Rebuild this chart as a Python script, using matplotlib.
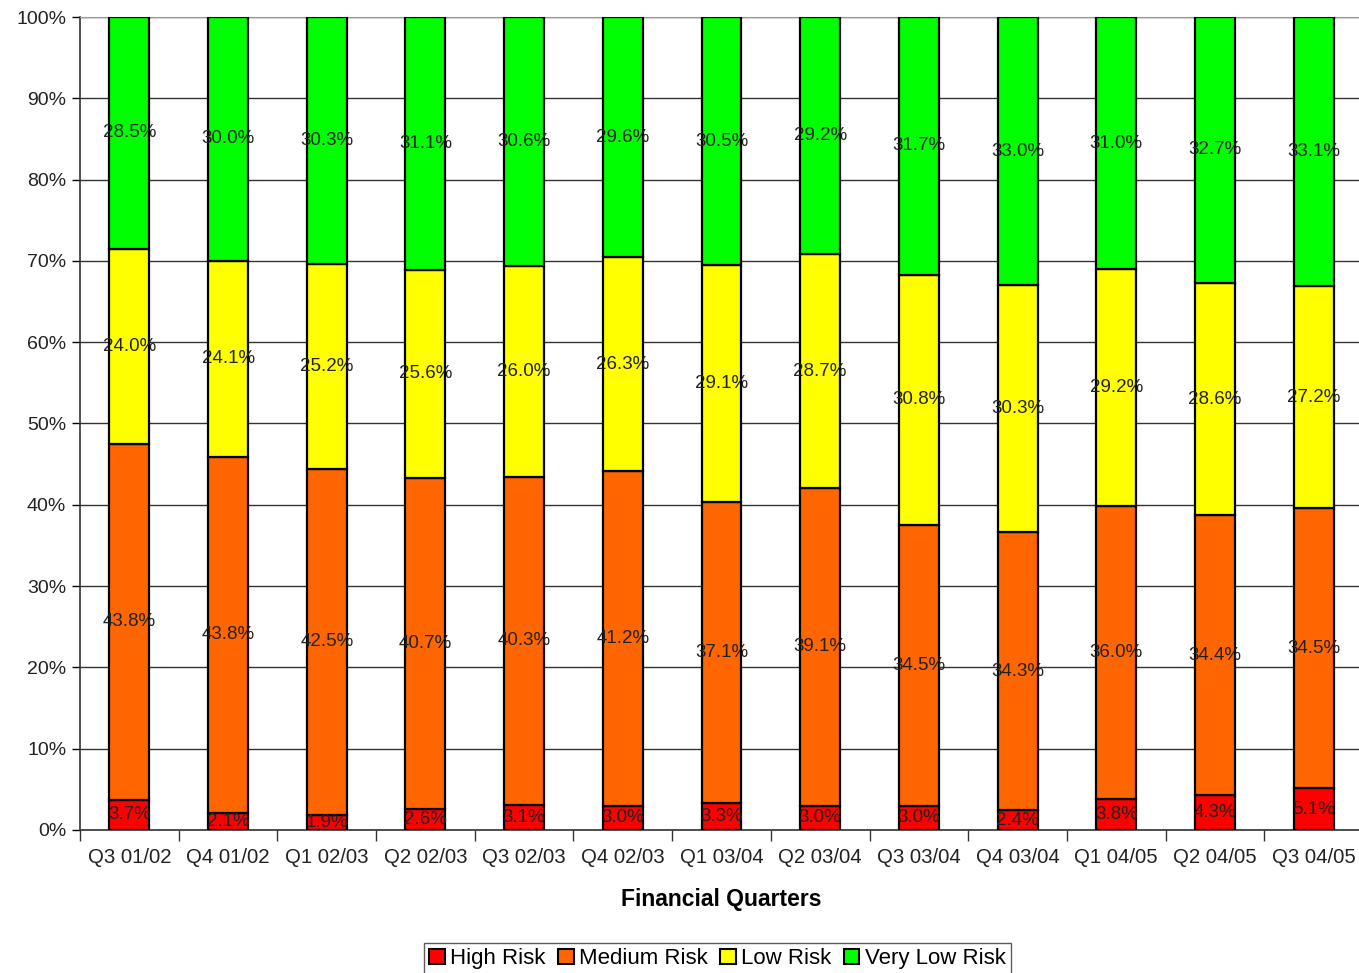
import numpy as np
import matplotlib.pyplot as plt
from matplotlib.patches import Patch

plt.rcParams['font.family'] = ['Liberation Sans', 'DejaVu Sans']

quarters = ["Q3 01/02", "Q4 01/02", "Q1 02/03", "Q2 02/03", "Q3 02/03", "Q4 02/03",
            "Q1 03/04", "Q2 03/04", "Q3 03/04", "Q4 03/04", "Q1 04/05", "Q2 04/05",
            "Q3 04/05"]

high_risk = [3.7, 2.1, 1.9, 2.6, 3.1, 3.0, 3.3, 3.0, 3.0, 2.4, 3.8, 4.3, 5.1]
medium_risk = [43.8, 43.8, 42.5, 40.7, 40.3, 41.2, 37.1, 39.1, 34.5, 34.3, 36.0, 34.4, 34.5]
low_risk = [24.0, 24.1, 25.2, 25.6, 26.0, 26.3, 29.1, 28.7, 30.8, 30.3, 29.2, 28.6, 27.2]
very_low_risk = [28.5, 30.0, 30.3, 31.1, 30.6, 29.6, 30.5, 29.2, 31.7, 33.0, 31.0, 32.7, 33.1]

series = [("High Risk", high_risk, "#ff0000"),
          ("Medium Risk", medium_risk, "#ff6600"),
          ("Low Risk", low_risk, "#ffff00"),
          ("Very Low Risk", very_low_risk, "#00ff00")]

fig = plt.figure(figsize=(13.59, 9.73), dpi=100)
ax = fig.add_axes([0.0589, 0.147, 0.944, 0.8355])

x = np.arange(len(quarters))
totals = np.sum([s[1] for s in series], axis=0)
bottom = np.zeros(len(quarters))

for name, vals, col in series:
    pct = np.array(vals) / totals * 100
    ax.bar(x, pct, 0.405, bottom=bottom, color=col, edgecolor="black",
           linewidth=1.6, zorder=3)
    for xi, b, h, v in zip(x, bottom, pct, vals):
        ax.text(xi, b + h / 2, f"{v:.1f}%", ha="center", va="center",
                fontsize=13.5, color="#222222", zorder=4)
    bottom += pct

ax.set_xlim(-0.5, len(quarters) - 0.5)
ax.set_ylim(0, 100)
ax.set_yticks(np.arange(0, 101, 10))
ax.set_yticklabels([f"{v}%" for v in range(0, 101, 10)], fontsize=14, color="#222222")
ax.yaxis.grid(True, color="#333333", linewidth=1.0, zorder=0)
ax.tick_params(axis="y", direction="out", length=6, width=1, pad=4)

ax.set_xticks(x)
ax.set_xticklabels(quarters, fontsize=14.7, color="#222222")
ax.set_xticks(np.arange(-0.5, len(quarters), 1), minor=True)
ax.tick_params(axis="x", which="major", length=0, pad=13)
ax.tick_params(axis="x", which="minor", length=8, width=1, color="#333333")

ax.spines["right"].set_visible(False)
ax.spines["top"].set_color("#999999")
ax.spines["left"].set_color("#333333")
ax.spines["bottom"].set_color("#333333")
ax.spines["left"].set_linewidth(1.2)
ax.spines["bottom"].set_linewidth(1.2)

ax.set_xlabel("Financial Quarters", fontsize=16.5, fontweight="bold", labelpad=15)

handles = [Patch(facecolor=c, edgecolor="black", linewidth=1.5, label=n) for n, _, c in series]
fig.legend(handles=handles, loc="upper center", bbox_to_anchor=(0.528, 0.031),
           ncol=4, fontsize=16, frameon=True, fancybox=False, edgecolor="#333333",
           handlelength=0.7, handleheight=0.7, handletextpad=0.25, columnspacing=0.55,
           borderpad=0.25, borderaxespad=0)

fig.savefig("out.png", dpi=100)
